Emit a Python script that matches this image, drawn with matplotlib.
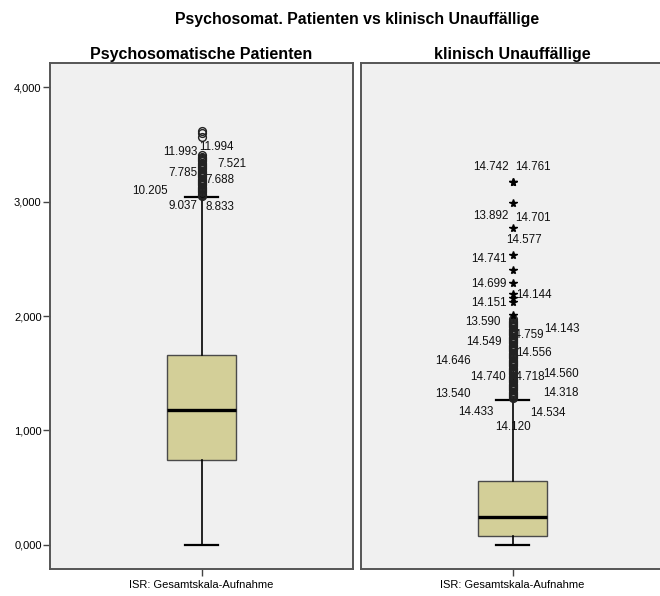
import matplotlib
matplotlib.use("Agg")
import matplotlib.pyplot as plt

# ---- data (values in thousands) ----
panels = ["Psychosomatische Patienten", "klinisch Unauffällige"]
variable = "ISR: Gesamtskala-Aufnahme"

# box statistics: low whisker, Q1, median, Q3, high whisker
patients_box = [0.0, 0.74, 1.18, 1.66, 3.04]
healthy_box = [0.0, 0.08, 0.245, 0.56, 1.27]

# outliers (circles) and extreme values (stars)
patients_outliers = [3.62, 3.60, 3.56, 3.41, 3.39, 3.38, 3.37, 3.36, 3.35, 3.34,
                     3.33, 3.32, 3.31, 3.30, 3.29, 3.28, 3.27, 3.26, 3.25, 3.24,
                     3.23, 3.22, 3.21, 3.20, 3.19, 3.18, 3.17, 3.16, 3.15, 3.14,
                     3.13, 3.12, 3.11, 3.10, 3.09, 3.08, 3.07, 3.06, 3.05]
patients_extremes = []
healthy_outliers = [1.97, 1.96, 1.95, 1.94, 1.93, 1.92, 1.91, 1.90, 1.89, 1.88,
                    1.87, 1.86, 1.85, 1.84, 1.83, 1.82, 1.81, 1.80, 1.79, 1.78,
                    1.77, 1.76, 1.75, 1.74, 1.73, 1.72, 1.71, 1.70, 1.69, 1.68,
                    1.67, 1.66, 1.65, 1.64, 1.63, 1.62, 1.61, 1.60, 1.59, 1.58,
                    1.57, 1.56, 1.55, 1.54, 1.53, 1.52, 1.51, 1.50, 1.49, 1.48,
                    1.47, 1.46, 1.45, 1.44, 1.43, 1.42, 1.41, 1.40, 1.39, 1.38,
                    1.37, 1.36, 1.35, 1.34, 1.33, 1.32, 1.31, 1.30, 1.29, 1.28]
healthy_extremes = [3.17, 3.17, 2.99, 2.77, 2.53, 2.40, 2.29, 2.19, 2.16, 2.12, 2.01]

# case labels and the height they are written at
patients_labels = ["11.993", "11.994", "7.521", "7.785", "7.688", "10.205", "9.037", "8.833"]
patients_label_y = [3.43, 3.48, 3.33, 3.25, 3.19, 3.09, 2.96, 2.95]
healthy_labels = ["14.742", "14.761", "13.892", "14.701", "14.577", "14.741", "14.699",
                  "14.144", "14.151", "13.590", "14.143", "14.759", "14.549", "14.556",
                  "14.646", "14.560", "14.740", "14.718", "13.540", "14.318", "14.433",
                  "14.534", "14.120"]
healthy_label_y = [3.30, 3.30, 2.87, 2.86, 2.66, 2.50, 2.28, 2.18, 2.11, 1.95, 1.89, 1.83,
                   1.77, 1.68, 1.61, 1.49, 1.47, 1.47, 1.32, 1.33, 1.16, 1.15, 1.03]

yticks = [0, 1, 2, 3, 4]
ytick_labels = ["0,000", "1,000", "2,000", "3,000", "4,000"]

# ---- layout: pixel offset of each case label from the box centre, and its anchor ----
patients_label_dx = [-4, -2, 16, -4, 4, -34, -4, 4]
patients_label_ha = ["right", "left", "left", "right", "left", "right", "right", "left"]
healthy_label_dx = [-4, 3, -4, 3, -6, -6, -6, 4, -6, -12, 32, -4, -11, 4,
                    -42, 31, -7, -3, -42, 31, -19, 18, 0]
healthy_label_ha = ["right", "left", "right", "left", "left", "right", "right", "left",
                    "right", "right", "left", "left", "right", "left", "right", "left",
                    "right", "left", "right", "left", "right", "left", "center"]

plt.rcParams["font.family"] = ["Liberation Sans", "DejaVu Sans"]

W, H = 660, 596
fig = plt.figure(figsize=(W / 100, H / 100), dpi=100)
fig.patch.set_facecolor("white")

ax_left = fig.add_axes([50 / W, (H - 569) / H, 303 / W, 506 / H])
ax_right = fig.add_axes([361 / W, (H - 569) / H, 303 / W, 506 / H])

fig.text(357 / W, 1 - 24 / H, "Psychosomat. Patienten vs klinisch Unauffällige",
         ha="center", va="baseline", fontsize=11.4, fontweight="bold")

groups = [
    (ax_left, panels[0], patients_box, patients_outliers, patients_extremes,
     patients_labels, patients_label_y, patients_label_dx, patients_label_ha),
    (ax_right, panels[1], healthy_box, healthy_outliers, healthy_extremes,
     healthy_labels, healthy_label_y, healthy_label_dx, healthy_label_ha),
]

for ax, title, box, outl, extr, labels, label_y, label_dx, label_ha in groups:
    ax.set_facecolor("#F0F0F0")
    stats = [{"whislo": box[0], "q1": box[1], "med": box[2], "q3": box[3],
              "whishi": box[4], "fliers": []}]
    ax.bxp(stats, positions=[1], widths=0.228, capwidths=0.112, patch_artist=True,
           showfliers=False,
           boxprops=dict(facecolor="#D3CF98", edgecolor="#4a4a4a", linewidth=1.0),
           medianprops=dict(color="black", linewidth=2.4),
           whiskerprops=dict(color="black", linewidth=1.2),
           capprops=dict(color="black", linewidth=1.6))
    if outl:
        ax.plot([1] * len(outl), outl, linestyle="none", marker="o", markersize=5.6,
                markerfacecolor="none", markeredgecolor="#222222", markeredgewidth=1.0,
                zorder=4)
    if extr:
        ax.plot([1] * len(extr), extr, linestyle="none", marker="*", markersize=5.8,
                color="black", zorder=4)
    for txt, yv, dx, ha in zip(labels, label_y, label_dx, label_ha):
        ax.annotate(txt, (1, yv), xytext=(dx, 0), textcoords="offset pixels",
                    ha=ha, va="center", fontsize=8.4, color="#111111", zorder=3)

    ax.set_xlim(0.5, 1.5)
    ax.set_ylim(-0.21, 4.21)
    ax.set_xticks([1])
    ax.set_xticklabels([variable], fontsize=8)
    ax.tick_params(axis="x", length=5, width=1, color="#444444", pad=3)
    ax.set_title(title, fontsize=11.5, fontweight="bold", pad=3)
    for s in ax.spines.values():
        s.set_color("#555555")
        s.set_linewidth(1.4)

ax_left.set_yticks(yticks)
ax_left.set_yticklabels(ytick_labels, fontsize=8)
ax_left.tick_params(axis="y", length=5, width=1, color="#444444", pad=1)
ax_right.set_yticks([])
ax_right.spines["right"].set_visible(False)

fig.savefig("out.png", dpi=100)
